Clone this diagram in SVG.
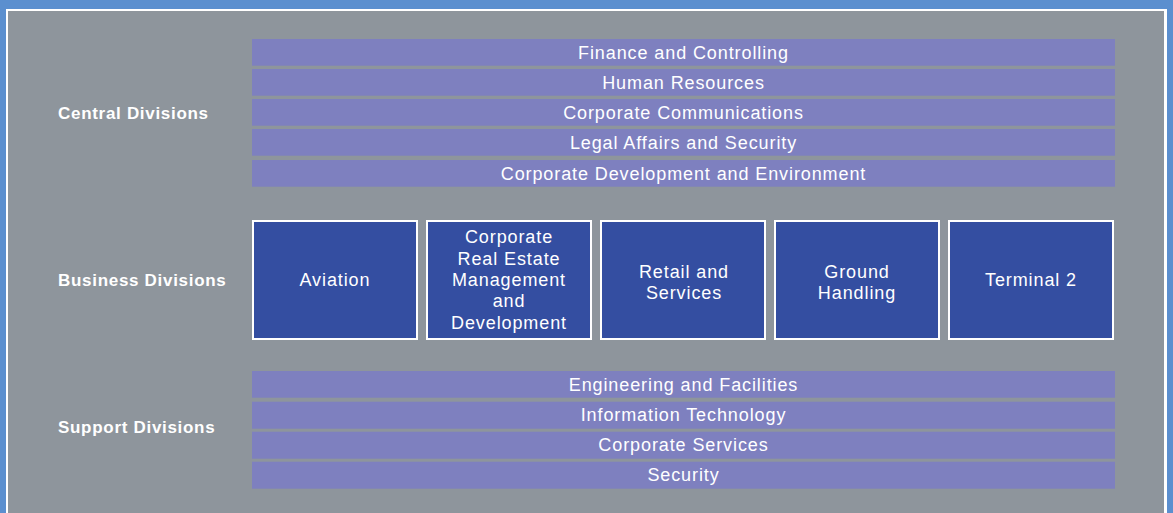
<svg xmlns="http://www.w3.org/2000/svg" width="1173" height="513" viewBox="0 0 1173 513">
  <style>
    .bar { fill: #7e80bf; }
    .box { fill: #344ea1; stroke: #ffffff; stroke-width: 2; }
    .t { font-family: "Liberation Sans", Arial, sans-serif; font-size: 18px; letter-spacing: 0.9px; fill: #ffffff; text-anchor: middle; }
    .lbl { font-family: "Liberation Sans", Arial, sans-serif; font-size: 17px; font-weight: bold; letter-spacing: 0.7px; fill: #ffffff; }
  </style>

  <!-- frame -->
  <rect x="0" y="0" width="1173" height="513" fill="#5b8fcf"/>
  <rect x="6" y="9" width="1161" height="510" fill="#ffffff"/>
  <rect x="8" y="11" width="1156" height="510" fill="#8e959c"/>

  <!-- row labels -->
  <g id="label-central"><text class="lbl" x="58" y="119">Central Divisions</text></g>
  <g id="label-business"><text class="lbl" x="58" y="285.5">Business Divisions</text></g>
  <g id="label-support"><text class="lbl" x="58" y="433">Support Divisions</text></g>

  <!-- central divisions -->
  <g id="central-finance">
    <rect class="bar" x="252" y="39" width="863" height="26.7"/>
    <text class="t" x="683.5" y="58.5">Finance and Controlling</text>
  </g>
  <g id="central-hr">
    <rect class="bar" x="252" y="69" width="863" height="26.7"/>
    <text class="t" x="683.5" y="88.5">Human Resources</text>
  </g>
  <g id="central-comms">
    <rect class="bar" x="252" y="99" width="863" height="26.7"/>
    <text class="t" x="683.5" y="118.5">Corporate Communications</text>
  </g>
  <g id="central-legal">
    <rect class="bar" x="252" y="129" width="863" height="26.7"/>
    <text class="t" x="683.5" y="148.5">Legal Affairs and Security</text>
  </g>
  <g id="central-development">
    <rect class="bar" x="252" y="160" width="863" height="26.7"/>
    <text class="t" x="683.5" y="179.5">Corporate Development and Environment</text>
  </g>

  <!-- business divisions -->
  <g id="biz-aviation">
    <rect class="box" x="253" y="221" width="164" height="118"/>
    <text class="t" x="335" y="286">Aviation</text>
  </g>
  <g id="biz-real-estate">
    <rect class="box" x="427" y="221" width="164" height="118"/>
    <text class="t" x="509" y="243.3">Corporate</text>
    <text class="t" x="509" y="264.6">Real Estate</text>
    <text class="t" x="509" y="285.9">Management</text>
    <text class="t" x="509" y="307.2">and</text>
    <text class="t" x="509" y="328.5">Development</text>
  </g>
  <g id="biz-retail">
    <rect class="box" x="601" y="221" width="164" height="118"/>
    <text class="t" x="684" y="277.5">Retail and</text>
    <text class="t" x="684" y="298.5">Services</text>
  </g>
  <g id="biz-ground">
    <rect class="box" x="775" y="221" width="164" height="118"/>
    <text class="t" x="857" y="277.5">Ground</text>
    <text class="t" x="857" y="298.5">Handling</text>
  </g>
  <g id="biz-terminal2">
    <rect class="box" x="949" y="221" width="164" height="118"/>
    <text class="t" x="1031" y="286">Terminal 2</text>
  </g>

  <!-- support divisions -->
  <g id="support-engineering">
    <rect class="bar" x="252" y="371" width="863" height="26.7"/>
    <text class="t" x="683.5" y="390.5">Engineering and Facilities</text>
  </g>
  <g id="support-it">
    <rect class="bar" x="252" y="401.7" width="863" height="27"/>
    <text class="t" x="683.5" y="421.2">Information Technology</text>
  </g>
  <g id="support-services">
    <rect class="bar" x="252" y="431.7" width="863" height="27"/>
    <text class="t" x="683.5" y="451.2">Corporate Services</text>
  </g>
  <g id="support-security">
    <rect class="bar" x="252" y="461.7" width="863" height="27"/>
    <text class="t" x="683.5" y="481.2">Security</text>
  </g>

  <!-- no connectors in this chart -->
  <g id="connectors"/>
</svg>
